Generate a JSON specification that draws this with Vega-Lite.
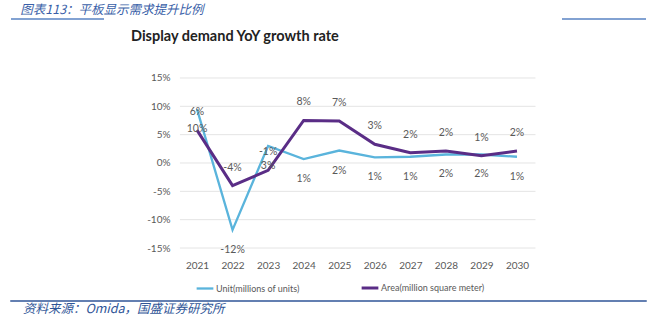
{
  "$schema": "https://vega.github.io/schema/vega-lite/v6.json",
  "padding": {"left": 10, "top": 3, "right": 3, "bottom": 0},
  "background": "white",
  "bounds": "flush",
  "spacing": 53,
  "title": {"text": "图表113：平板显示需求提升比例", "anchor": "start", "dx": 10, "offset": 2, "font": "Noto Sans CJK SC", "fontSize": 12.5, "fontStyle": "italic", "fontWeight": "normal", "color": "#3A5FA8"},
  "config": {
    "view": {"stroke": null},
    "font": "Lato",
    "axisX": {"format": "d", "title": null, "domain": false, "ticks": false, "grid": false, "labelOverlap": false, "labelPadding": 12, "labelFont": "Lato", "labelFontSize": 10, "labelColor": "#595959"},
    "axisY": {"labelExpr": "datum.value + '%'", "title": null, "domain": false, "ticks": false, "grid": false, "labelOverlap": false, "labelFlush": false, "labelSeparation": 0, "offset": -162, "labelPadding": 3, "labelFont": "Lato", "labelFontSize": 10, "labelColor": "#595959"}
  },
  "datasets": {
    "growth": [
      {"year": 2021, "series": "Unit(millions of units)", "value": 9.5, "label": "10%"},
      {"year": 2022, "series": "Unit(millions of units)", "value": -11.8, "label": "-12%"},
      {"year": 2023, "series": "Unit(millions of units)", "value": 3.0, "label": "3%"},
      {"year": 2024, "series": "Unit(millions of units)", "value": 0.7, "label": "1%"},
      {"year": 2025, "series": "Unit(millions of units)", "value": 2.2, "label": "2%"},
      {"year": 2026, "series": "Unit(millions of units)", "value": 1.0, "label": "1%"},
      {"year": 2027, "series": "Unit(millions of units)", "value": 1.1, "label": "1%"},
      {"year": 2028, "series": "Unit(millions of units)", "value": 1.5, "label": "2%"},
      {"year": 2029, "series": "Unit(millions of units)", "value": 1.5, "label": "2%"},
      {"year": 2030, "series": "Unit(millions of units)", "value": 1.1, "label": "1%"},
      {"year": 2021, "series": "Area(million square meter)", "value": 5.8, "label": "6%"},
      {"year": 2022, "series": "Area(million square meter)", "value": -4.0, "label": "-4%"},
      {"year": 2023, "series": "Area(million square meter)", "value": -1.3, "label": "-1%"},
      {"year": 2024, "series": "Area(million square meter)", "value": 7.5, "label": "8%"},
      {"year": 2025, "series": "Area(million square meter)", "value": 7.4, "label": "7%"},
      {"year": 2026, "series": "Area(million square meter)", "value": 3.3, "label": "3%"},
      {"year": 2027, "series": "Area(million square meter)", "value": 1.8, "label": "2%"},
      {"year": 2028, "series": "Area(million square meter)", "value": 2.1, "label": "2%"},
      {"year": 2029, "series": "Area(million square meter)", "value": 1.3, "label": "1%"},
      {"year": 2030, "series": "Area(million square meter)", "value": 2.1, "label": "2%"}
    ],
    "gridlines": [{"tick": -15}, {"tick": -10}, {"tick": -5}, {"tick": 0}, {"tick": 5}, {"tick": 10}, {"tick": 15}]
  },
  "vconcat": [
    {
      "width": 635, "height": 0.01,
      "data": {"values": []},
      "mark": {"type": "text"},
      "encoding": {},
      "view": {"stroke": "#5A84C4", "strokeWidth": 1.5, "strokeDash": [93, 458, 84, 636]}
    },
    {
      "width": 635, "height": 175,
      "title": {"text": "Display demand YoY growth rate", "anchor": "start", "frame": "group", "dx": 120, "offset": 28, "font": "Lato", "fontSize": 14.5, "fontWeight": "bold", "color": "#222222"},
      "layer": [
        {
          "data": {"name": "gridlines"},
          "mark": {"type": "rule", "color": "#E4E4E4", "strokeWidth": 1},
          "encoding": {
            "y": {"field": "tick", "type": "quantitative", "title": null, "scale": {"domain": [-15, 15.88], "nice": false, "zero": false}, "axis": {"values": [-15, -10, -5, 0, 5, 10, 15]}},
            "x": {"datum": 2020.52, "type": "quantitative", "title": null, "scale": {"domain": [2015.769, 2033.628], "nice": false, "zero": false}, "axis": {"values": [2021, 2022, 2023, 2024, 2025, 2026, 2027, 2028, 2029, 2030]}},
            "x2": {"datum": 2030.52}
          }
        },
        {
          "data": {"name": "growth"},
          "mark": {"type": "line"},
          "encoding": {
            "x": {"field": "year", "type": "quantitative", "title": null, "scale": {"domain": [2015.769, 2033.628], "nice": false, "zero": false}, "axis": {"values": [2021, 2022, 2023, 2024, 2025, 2026, 2027, 2028, 2029, 2030]}},
            "y": {"field": "value", "type": "quantitative", "title": null, "scale": {"domain": [-15, 15.88], "nice": false, "zero": false}, "axis": {"values": [-15, -10, -5, 0, 5, 10, 15]}},
            "color": {"field": "series", "type": "nominal",
                      "scale": {"domain": ["Unit(millions of units)", "Area(million square meter)"], "range": ["#5AB4DC", "#5A2D86"]},
                      "legend": {"orient": "none", "legendX": 184, "legendY": 259, "direction": "horizontal", "title": null, "symbolType": "stroke", "symbolSize": 280, "symbolStrokeWidth": 3, "labelFont": "Lato", "labelFontSize": 9, "labelColor": "#595959", "columnPadding": 55, "labelOffset": 1}},
            "strokeWidth": {"field": "series", "type": "nominal", "scale": {"domain": ["Unit(millions of units)", "Area(million square meter)"], "range": [2.3, 3]}, "legend": null}
          }
        },
        {
          "data": {"name": "growth"},
          "transform": [{"filter": "datum.series == 'Area(million square meter)'"}],
          "mark": {"type": "text", "dy": -18, "font": "Lato", "fontSize": 10.5, "color": "#595959"},
          "encoding": {
            "x": {"field": "year", "type": "quantitative", "title": null, "axis": {"values": [2021, 2022, 2023, 2024, 2025, 2026, 2027, 2028, 2029, 2030]}},
            "y": {"field": "value", "type": "quantitative", "title": null, "axis": {"values": [-15, -10, -5, 0, 5, 10, 15]}},
            "text": {"field": "label"}
          }
        },
        {
          "data": {"name": "growth"},
          "transform": [{"filter": "datum.series == 'Unit(millions of units)'"}],
          "mark": {"type": "text", "dy": 20, "font": "Lato", "fontSize": 10.5, "color": "#595959"},
          "encoding": {
            "x": {"field": "year", "type": "quantitative", "title": null, "axis": {"values": [2021, 2022, 2023, 2024, 2025, 2026, 2027, 2028, 2029, 2030]}},
            "y": {"field": "value", "type": "quantitative", "title": null, "axis": {"values": [-15, -10, -5, 0, 5, 10, 15]}},
            "text": {"field": "label"}
          }
        }
      ]
    },
    {
      "width": 635, "height": 0.01,
      "data": {"values": []},
      "mark": {"type": "text"},
      "encoding": {},
      "view": {"stroke": "#2F5597", "strokeWidth": 1.5},
      "title": {"text": "资料来源：Omida，国盛证券研究所", "orient": "bottom", "anchor": "start", "frame": "group", "dx": 12, "offset": 2, "font": "Noto Sans CJK SC", "fontSize": 12.5, "fontStyle": "italic", "fontWeight": "normal", "color": "#2F5597"}
    }
  ]
}
